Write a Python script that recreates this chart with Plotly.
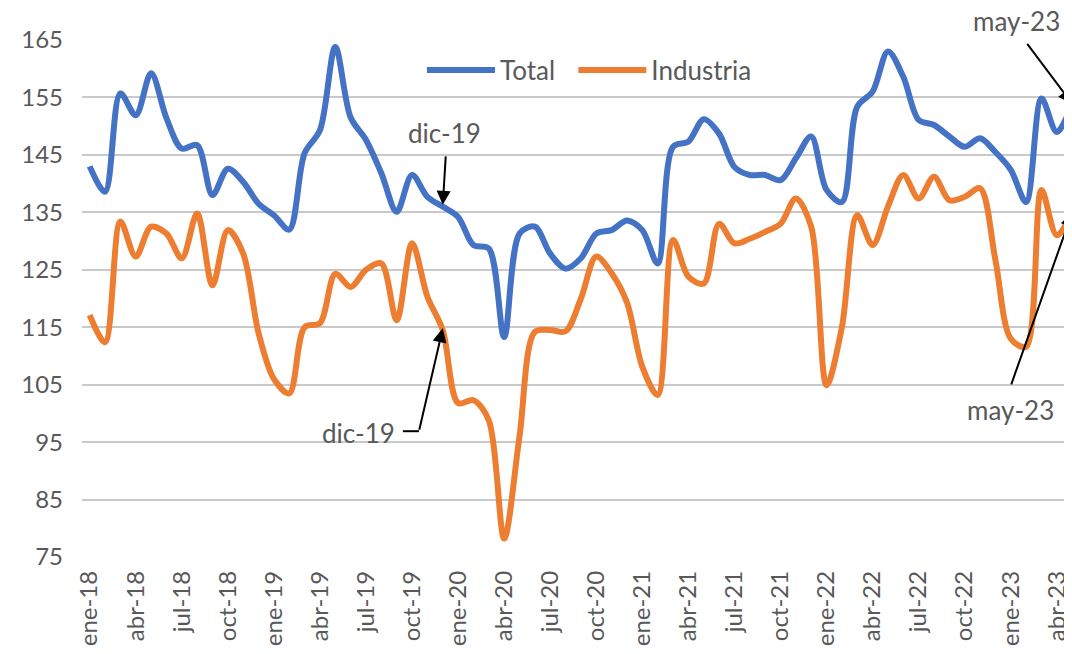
import plotly.graph_objects as go

months_es = ["ene", "feb", "mar", "abr", "may", "jun", "jul", "ago", "sep", "oct", "nov", "dic"]
categories = [f"{m}-{y:02d}" for y in range(18, 24) for m in months_es][:65]

total = [143, 138.6, 155.7, 151.9, 159.2, 151.4, 146.1, 146.7, 138, 142.6,
         140.3, 136.5, 134.5, 132, 145.3, 149.3, 163.8, 151.5, 147.6, 141.8,
         135.1, 141.5, 137.7, 136, 134.2, 129.3, 128.7, 113.3, 131.3, 132.5,
         127.8, 125.2, 127, 131.3, 131.9, 133.6, 131.9, 126.1, 146.4, 147.3,
         151.2, 148.7, 142.9, 141.5, 141.5, 140.6, 144.4, 148.2, 138.9, 136.8,
         153.4, 156, 163, 158.6, 151.1, 150.2, 148.2, 146.4, 147.9, 145.5,
         142.4, 136.8, 154.8, 149, 153.9]

industria = [117.1, 112.4, 133.4, 127.3, 132.5, 131.3, 127, 134.8, 122.3, 131.9,
             127.8, 114, 106, 103.5, 115, 115.7, 124.3, 122, 125, 126.1,
             116.2, 129.6, 120.3, 114.5, 101.8, 102.3, 98.8, 78.2, 96, 114.2,
             114.5, 114.3, 120, 127.3, 124.4, 119.3, 108.1, 103.2, 130.2, 123.8,
             122.6, 133, 129.6, 130.4, 131.6, 133, 137.4, 132.5, 104.9, 115,
             134.5, 129.3, 136, 141.5, 137.4, 141.2, 137.1, 137.7, 139.2, 126.7,
             113, 111.6, 138.9, 131, 135]

y_ticks = [75, 85, 95, 105, 115, 125, 135, 145, 155, 165]

idx = list(range(len(categories)))
tick_idx = idx[::3]
tick_text = [categories[i] for i in tick_idx]

FONT = "Lato, 'Open Sans', sans-serif"
GREY = "#595959"
TXT = 26
NBSP = "\u00a0"

fig = go.Figure()
fig.add_trace(go.Scatter(x=idx, y=total, mode="lines", name="Total" + NBSP * 2,
                         line=dict(color="#4472C4", width=6, shape="spline", smoothing=0.9)))
fig.add_trace(go.Scatter(x=idx, y=industria, mode="lines", name="Industria",
                         line=dict(color="#ED7D31", width=6, shape="spline", smoothing=0.9)))

i_dic19 = categories.index("dic-19")
i_may23 = categories.index("may-23")

ann = []
def label(x, y, t, yref="y"):
    ann.append(dict(x=x, y=y, xref="x", yref=yref, text=t, showarrow=False,
                    xanchor="center", yanchor="middle",
                    font=dict(family=FONT, size=TXT, color=GREY)))
def arrow(x, y, ax, ay):
    ann.append(dict(x=x, y=y, xref="x", yref="y", ax=ax, ay=ay, axref="x", ayref="y",
                    text="", showarrow=True, arrowhead=2, arrowsize=1.4,
                    arrowwidth=2, arrowcolor="black", standoff=0, startstandoff=0))

label(23.1, 148.8, "dic-19")
arrow(i_dic19, total[i_dic19] + 0.3, 23.2, 145.0)
label(17.5, 96.6, "dic-19")
arrow(i_dic19, industria[i_dic19] + 0.3, 21.45, 96.9)
label(60.4, 1.036, "may-23", yref="paper")
arrow(i_may23, total[i_may23], 61.0, 164.6)
label(60.0, 100.6, "may-23")
arrow(i_may23, industria[i_may23], 60.0, 104.8)

fig.add_shape(type="line", xref="x", yref="y", x0=20.4, x1=21.45, y0=96.9, y1=96.9,
              line=dict(color="black", width=2))

fig.update_layout(
    width=1072, height=654,
    margin=dict(l=74, r=4, t=32, b=105),
    paper_bgcolor="white", plot_bgcolor="white",
    font=dict(family=FONT, size=24, color=GREY),
    annotations=ann,
    showlegend=True,
    legend=dict(orientation="h", x=0.342, y=0.942, xanchor="left", yanchor="middle",
                bgcolor="rgba(0,0,0,0)", font=dict(family=FONT, size=TXT, color=GREY),
                itemwidth=68),
    xaxis=dict(range=[-0.5, 64.25], tickvals=tick_idx, ticktext=tick_text, tickangle=-90,
               showgrid=False, zeroline=False, showline=False, ticks="",
               ticklabelstandoff=8, tickfont=dict(family=FONT, size=24, color=GREY)),
    yaxis=dict(range=[75, 165], tickvals=y_ticks, showgrid=True, gridcolor="#c9c9c9",
               gridwidth=2, zeroline=False, showline=False, ticks="",
               ticklabelstandoff=18, tickfont=dict(family=FONT, size=24, color=GREY)),
)

fig.write_html("out.html")
